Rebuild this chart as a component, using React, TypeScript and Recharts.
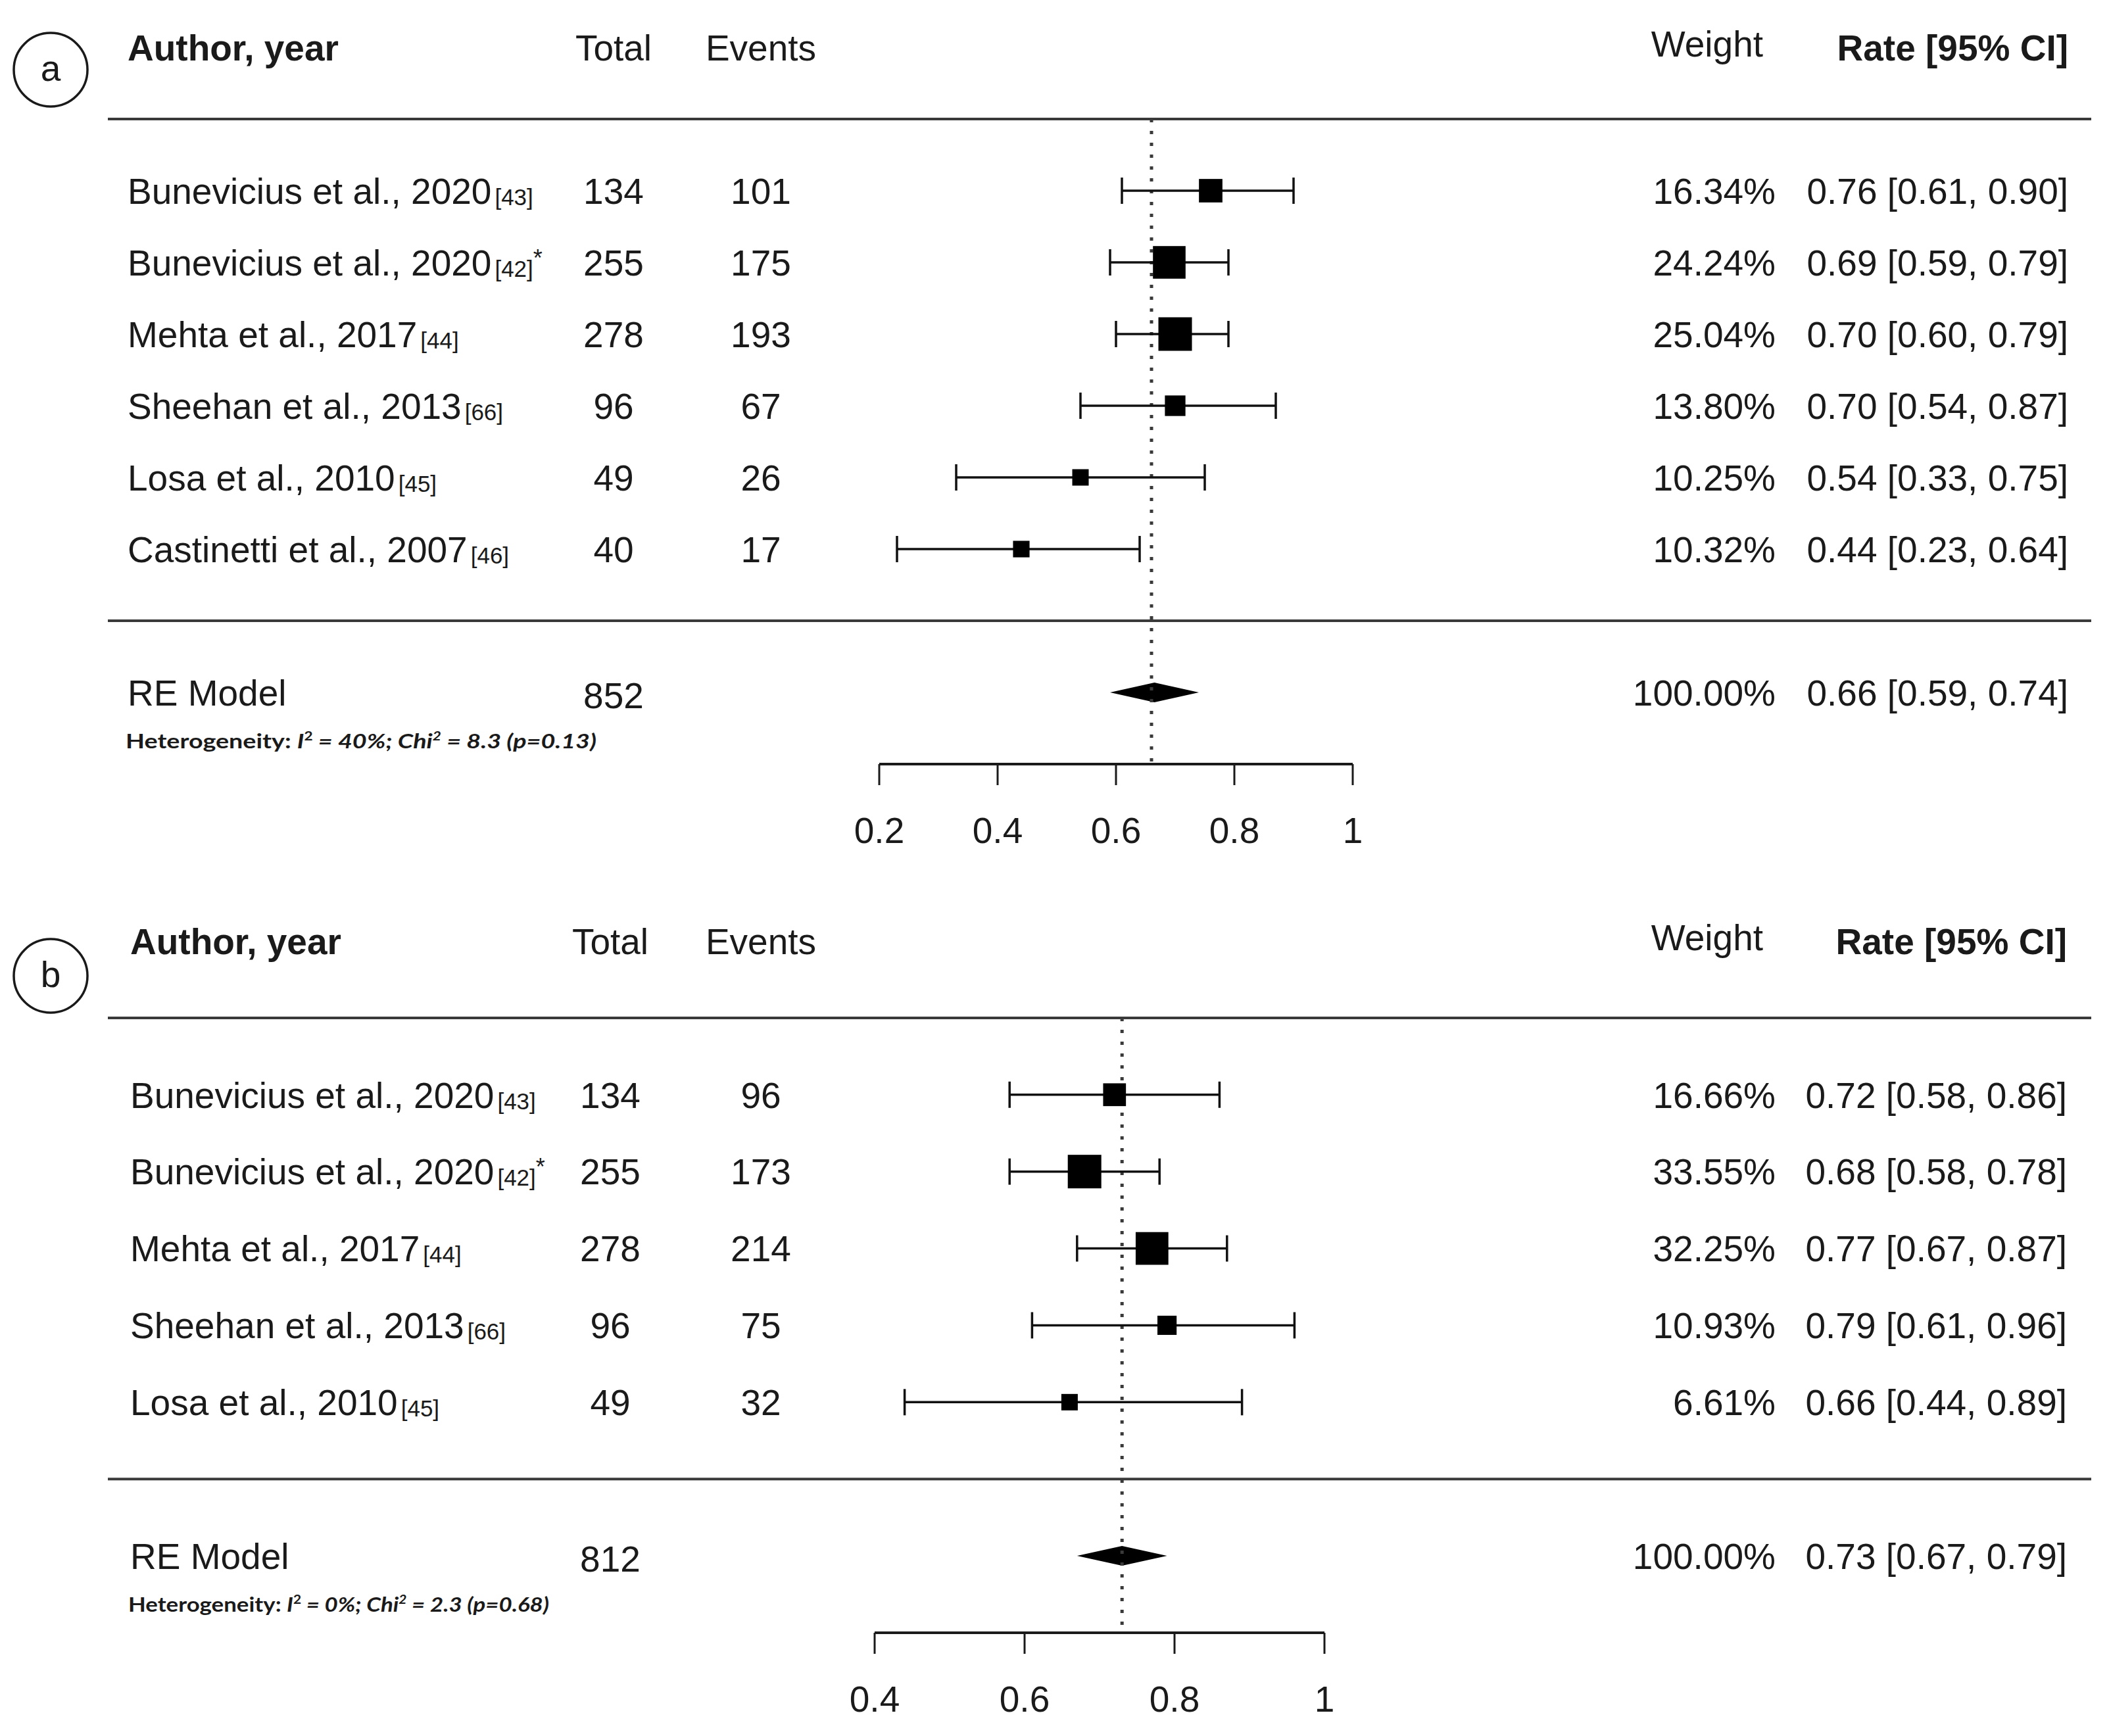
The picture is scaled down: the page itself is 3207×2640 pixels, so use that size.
import React from 'react'
import {
  ScatterChart, Scatter, XAxis, YAxis, ErrorBar, ReferenceLine, ReferenceArea,
} from 'recharts'

const W = 3207
const PANEL_H = 1320
const FONT = '"Liberation Sans", Arial, sans-serif'
const HET_FONT = 'Lato, "Open Sans", sans-serif'
const INK = '#1a1a1a'
const FS = 55

// panel a: all patients
const authorsA = [
  'Bunevicius et al., 2020', 'Bunevicius et al., 2020', 'Mehta et al., 2017',
  'Sheehan et al., 2013', 'Losa et al., 2010', 'Castinetti et al., 2007',
]
const refsA = ['[43]', '[42]', '[44]', '[66]', '[45]', '[46]']
const starsA = [false, true, false, false, false, false]
const totalsA = [134, 255, 278, 96, 49, 40]
const eventsA = [101, 175, 193, 67, 26, 17]
const weightsA = [16.34, 24.24, 25.04, 13.8, 10.25, 10.32]
const ratesA = [0.76, 0.69, 0.7, 0.7, 0.54, 0.44]
const lowsA = [0.61, 0.59, 0.6, 0.54, 0.33, 0.23]
const highsA = [0.9, 0.79, 0.79, 0.87, 0.75, 0.64]
const pooledTotalA = 852
const pooledRateA = [0.66, 0.59, 0.74]
const hetA = ['40%', '8.3', '0.13']
const ticksA = [0.2, 0.4, 0.6, 0.8, 1]

// panel b
const authorsB = [
  'Bunevicius et al., 2020', 'Bunevicius et al., 2020', 'Mehta et al., 2017',
  'Sheehan et al., 2013', 'Losa et al., 2010',
]
const refsB = ['[43]', '[42]', '[44]', '[66]', '[45]']
const starsB = [false, true, false, false, false]
const totalsB = [134, 255, 278, 96, 49]
const eventsB = [96, 173, 214, 75, 32]
const weightsB = [16.66, 33.55, 32.25, 10.93, 6.61]
const ratesB = [0.72, 0.68, 0.77, 0.79, 0.66]
const lowsB = [0.58, 0.58, 0.67, 0.61, 0.44]
const highsB = [0.86, 0.78, 0.87, 0.96, 0.89]
const pooledTotalB = 812
const pooledRateB = [0.73, 0.67, 0.79]
const hetB = ['0%', '2.3', '0.68']
const ticksB = [0.4, 0.6, 0.8, 1]

const f2 = (v: number) => v.toFixed(2)
const ci = (r: number, l: number, h: number) => `${f2(r)} [${f2(l)}, ${f2(h)}]`

function buildRows(authors, refs, stars, totals, events, weights, rates, lows, highs) {
  return authors.map((author, i) => ({
    x: rates[i],
    y: i + 1,
    author,
    ref: refs[i],
    star: stars[i],
    total: totals[i],
    events: events[i],
    weight: weights[i],
    low: lows[i],
    high: highs[i],
    err: [rates[i] - lows[i], highs[i] - rates[i]],
  }))
}

interface Layout {
  letter: string
  margin: { top: number; right: number; bottom: number; left: number }
  authorX: number
  totalX: number
  circleDy: number
  hetLen: number
  rateRight: number
}

interface PanelProps {
  layout: Layout
  rows: any[]
  pooledTotal: number
  pooled: number[]
  het: string[]
  ticks: number[]
}

const EVENTS_X = 1157
const WEIGHT_RIGHT = 2700
const WEIGHT_HEAD_RIGHT = 2681
const RULE_X1 = 164
const RULE_X2 = 3180

function ForestPanel({ layout, rows, pooledTotal, pooled, het, ticks }: PanelProps) {
  const n = rows.length
  const ws = rows.map((r) => r.weight)
  const wMin = Math.min(...ws)
  const wMax = Math.max(...ws)
  const boxSize = (w: number) => 25 + (26 * (w - wMin)) / (wMax - wMin)

  const headerData = [{ x: pooled[0], y: -1 }]
  const ruleData = [{ x: pooled[0], y: 0 }, { x: pooled[0], y: n + 1 }]
  const pooledData = [{ x: pooled[0], y: n + 2 }]

  const header = (p: any) => (
    <g fontFamily={FONT} fontSize={FS} fill={INK}>
      <circle cx={77} cy={p.cy + layout.circleDy} r={56} fill="none" stroke={INK} strokeWidth={3.5} />
      <text x={77} y={p.cy + layout.circleDy} dy="0.3em" textAnchor="middle">{layout.letter}</text>
      <text x={layout.authorX} y={p.cy} dy="0.36em" fontWeight="bold">Author, year</text>
      <text x={layout.totalX} y={p.cy} dy="0.36em" textAnchor="middle">Total</text>
      <text x={EVENTS_X} y={p.cy} dy="0.36em" textAnchor="middle">Events</text>
      <text x={WEIGHT_HEAD_RIGHT} y={p.cy - 6} dy="0.36em" textAnchor="end">Weight</text>
      <text x={layout.rateRight} y={p.cy} dy="0.36em" textAnchor="end" fontWeight="bold">Rate [95% CI]</text>
    </g>
  )

  const rule = (p: any) => (
    <line x1={RULE_X1} x2={RULE_X2} y1={p.cy} y2={p.cy} stroke="#3a3a3a" strokeWidth={4} />
  )

  const studyText = (p: any) => {
    const d = p.payload
    return (
      <g fontFamily={FONT} fontSize={FS} fill={INK}>
        <text x={layout.authorX} y={p.cy} dy="0.36em">
          {d.author}
          <tspan fontSize={35} dx={5} dy={2}>{d.ref}</tspan>
          {d.star && <tspan fontSize={36} dy={-16}>*</tspan>}
        </text>
        <text x={layout.totalX} y={p.cy} dy="0.36em" textAnchor="middle">{d.total}</text>
        <text x={EVENTS_X} y={p.cy} dy="0.36em" textAnchor="middle">{d.events}</text>
        <text x={WEIGHT_RIGHT} y={p.cy} dy="0.36em" textAnchor="end">{f2(d.weight)}%</text>
        <text x={layout.rateRight} y={p.cy} dy="0.36em" textAnchor="end">{ci(d.x, d.low, d.high)}</text>
      </g>
    )
  }

  const box = (p: any) => {
    const s = boxSize(p.payload.weight)
    return <rect x={p.cx - s / 2} y={p.cy - s / 2} width={s} height={s} fill="#000" />
  }

  const pooledText = (p: any) => (
    <g fontFamily={FONT} fontSize={FS} fill={INK}>
      <text x={layout.authorX} y={p.cy} dy="0.36em">RE Model</text>
      <text x={layout.totalX} y={p.cy + 4} dy="0.36em" textAnchor="middle">{pooledTotal}</text>
      <text x={WEIGHT_RIGHT} y={p.cy} dy="0.36em" textAnchor="end">100.00%</text>
      <text x={layout.rateRight} y={p.cy} dy="0.36em" textAnchor="end">{ci(pooled[0], pooled[1], pooled[2])}</text>
      <text
        x={layout.authorX - 3}
        y={p.cy + 74}
        dy="0.36em"
        fontFamily={HET_FONT}
        fontSize={30}
        fontWeight={700}
        textLength={layout.hetLen}
        lengthAdjust="spacingAndGlyphs"
      >
        Heterogeneity: <tspan fontStyle="italic">I</tspan>
        <tspan fontSize={18} dy={-12}>2</tspan>
        <tspan fontStyle="italic" dy={12}> = {het[0]}; Chi</tspan>
        <tspan fontSize={18} dy={-12} fontStyle="italic">2</tspan>
        <tspan fontStyle="italic" dy={12}> = {het[1]} (p={het[2]})</tspan>
      </text>
    </g>
  )

  const diamond = (p: any) => {
    const cy = p.y + p.height / 2
    const h = 15
    const pts = `${p.x},${cy} ${p.x + p.width / 2},${cy - h} ${p.x + p.width},${cy} ${p.x + p.width / 2},${cy + h}`
    return <polygon points={pts} fill="#000" />
  }

  return (
    <ScatterChart width={W} height={PANEL_H} margin={layout.margin}>
      <XAxis
        type="number"
        dataKey="x"
        domain={[ticks[0], 1]}
        ticks={ticks}
        interval={0}
        height={130}
        tickSize={32}
        tickMargin={49}
        axisLine={{ stroke: INK, strokeWidth: 4 }}
        tickLine={{ stroke: INK, strokeWidth: 3 }}
        tick={{ fontSize: FS, fill: INK, fontFamily: FONT }}
      />
      <YAxis type="number" dataKey="y" domain={[-1, n + 3]} reversed hide width={0} />
      <ReferenceLine
        segment={[{ x: pooled[0], y: 0 }, { x: pooled[0], y: n + 3 }]}
        stroke="#3a3a3a"
        strokeWidth={5}
        strokeDasharray="5 13"
      />
      <Scatter data={headerData} shape={header} isAnimationActive={false} />
      <Scatter data={ruleData} shape={rule} isAnimationActive={false} />
      <Scatter data={rows} shape={studyText} isAnimationActive={false} />
      <Scatter data={rows} shape={box} isAnimationActive={false}>
        <ErrorBar dataKey="err" direction="x" width={20} stroke="#111" strokeWidth={3.5} isAnimationActive={false} />
      </Scatter>
      <Scatter data={pooledData} shape={pooledText} isAnimationActive={false} />
      <ReferenceArea x1={pooled[1]} x2={pooled[2]} y1={n + 1.5} y2={n + 2.5} shape={diamond} />
    </ScatterChart>
  )
}

const layoutA: Layout = {
  letter: 'a',
  margin: { top: 72, right: 1150, bottom: 28, left: 1337 },
  authorX: 194,
  totalX: 933,
  circleDy: 34,
  hetLen: 716,
  rateRight: 3145,
}

const layoutB: Layout = {
  letter: 'b',
  margin: { top: 111, right: 1193, bottom: 27, left: 1330 },
  authorX: 198,
  totalX: 928,
  circleDy: 53,
  hetLen: 640,
  rateRight: 3143,
}

export default function App() {
  const rowsA = buildRows(authorsA, refsA, starsA, totalsA, eventsA, weightsA, ratesA, lowsA, highsA)
  const rowsB = buildRows(authorsB, refsB, starsB, totalsB, eventsB, weightsB, ratesB, lowsB, highsB)
  return (
    <div style={{ position: 'absolute', left: 0, top: 0, width: W, height: 2640, background: '#fff' }}>
      <div style={{ position: 'absolute', left: 0, top: 0 }}>
        <ForestPanel layout={layoutA} rows={rowsA} pooledTotal={pooledTotalA} pooled={pooledRateA} het={hetA} ticks={ticksA} />
      </div>
      <div style={{ position: 'absolute', left: 0, top: PANEL_H }}>
        <ForestPanel layout={layoutB} rows={rowsB} pooledTotal={pooledTotalB} pooled={pooledRateB} het={hetB} ticks={ticksB} />
      </div>
    </div>
  )
}
